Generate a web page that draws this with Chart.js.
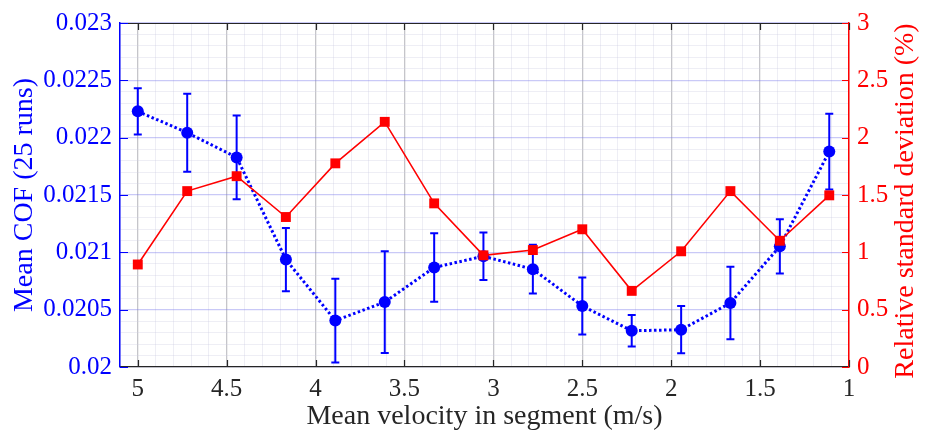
<!DOCTYPE html>
<html>
<head>
<meta charset="utf-8">
<script src="https://cdn.jsdelivr.net/npm/chart.js@4/dist/chart.umd.min.js"></script>
<style>
  html, body { margin: 0; padding: 0; background: #ffffff; }
</style>
</head>
<body>
<canvas id="cof-chart" width="928" height="434"></canvas>
<script>
// values
const velocity = [5, 4.722, 4.444, 4.167, 3.889, 3.611, 3.333, 3.056, 2.778, 2.5, 2.222, 1.944, 1.667, 1.389, 1.111];
const meanCof = [0.02223, 0.022043, 0.021828, 0.020937, 0.020405, 0.020566, 0.020868, 0.020966, 0.020853, 0.020532, 0.020316, 0.020325, 0.020558, 0.021052, 0.021879];
const cofStd = [0.000202, 0.00034, 0.000365, 0.000276, 0.000365, 0.000443, 0.000298, 0.000207, 0.000213, 0.000248, 0.000137, 0.000206, 0.000316, 0.000236, 0.00033];
const relStd = [0.894, 1.534, 1.664, 1.308, 1.776, 2.138, 1.427, 0.974, 1.02, 1.201, 0.664, 1.009, 1.534, 1.101, 1.497];

const rightTitle = "Relative standard deviation (%)";

const serif = "'Liberation Serif', 'DejaVu Serif', serif";
const BLUE = "#0000ff";
const RED = "#ff0000";

function isMultiple(v, step) {
  const q = v / step;
  return Math.abs(q - Math.round(q)) < 1e-6;
}

// error bars under the markers
const errorBars = {
  id: "errorBars",
  beforeDatasetsDraw(chart) {
    const ctx = chart.ctx;
    const x = chart.scales.x;
    const y = chart.scales.y;
    ctx.save();
    ctx.strokeStyle = BLUE;
    ctx.lineWidth = 2;
    velocity.forEach((v, i) => {
      const px = x.getPixelForValue(v);
      const top = y.getPixelForValue(meanCof[i] + cofStd[i]);
      const bot = y.getPixelForValue(meanCof[i] - cofStd[i]);
      ctx.beginPath();
      ctx.moveTo(px, top);
      ctx.lineTo(px, bot);
      ctx.moveTo(px - 4, top);
      ctx.lineTo(px + 4, top);
      ctx.moveTo(px - 4, bot);
      ctx.lineTo(px + 4, bot);
      ctx.stroke();
    });
    ctx.restore();
  },
};

// inward tick marks, top frame line and the right axis title (reads bottom to top)
const innerTicks = {
  id: "innerTicks",
  afterDraw(chart) {
    const ctx = chart.ctx;
    const area = chart.chartArea;
    const x = chart.scales.x;
    const y = chart.scales.y;
    const y2 = chart.scales.y2;
    ctx.save();
    ctx.lineWidth = 1.2;

    ctx.strokeStyle = "#262626";
    ctx.beginPath();
    ctx.moveTo(area.left, area.top + 0.5);
    ctx.lineTo(area.right, area.top + 0.5);
    x.ticks.forEach((t) => {
      if (!isMultiple(t.value, 0.5)) return;
      const px = Math.round(x.getPixelForValue(t.value)) + 0.5;
      ctx.moveTo(px, area.bottom);
      ctx.lineTo(px, area.bottom - 7);
      ctx.moveTo(px, area.top);
      ctx.lineTo(px, area.top + 7);
    });
    ctx.stroke();

    ctx.strokeStyle = BLUE;
    ctx.beginPath();
    y.ticks.forEach((t) => {
      if (!isMultiple(t.value, 0.0005)) return;
      const py = Math.round(y.getPixelForValue(t.value)) + 0.5;
      ctx.moveTo(area.left, py);
      ctx.lineTo(area.left + 8, py);
    });
    ctx.stroke();

    ctx.strokeStyle = RED;
    ctx.beginPath();
    y2.ticks.forEach((t) => {
      const py = Math.round(y2.getPixelForValue(t.value)) + 0.5;
      ctx.moveTo(area.right, py);
      ctx.lineTo(area.right - 7, py);
    });
    ctx.stroke();

    ctx.translate(906, (area.top + area.bottom) / 2 + 6);
    ctx.rotate(-Math.PI / 2);
    ctx.fillStyle = RED;
    ctx.font = "28px " + serif;
    ctx.textAlign = "center";
    ctx.textBaseline = "middle";
    ctx.fillText(rightTitle, 0, 0);
    ctx.restore();
  },
};

const ctx = document.getElementById("cof-chart").getContext("2d");
const chart = new Chart(ctx, {
  type: "line",
  data: {
    datasets: [
      {
        label: "Relative standard deviation",
        data: velocity.map((v, i) => ({ x: v, y: relStd[i] })),
        yAxisID: "y2",
        order: 0,
        borderColor: RED,
        backgroundColor: RED,
        borderWidth: 1.6,
        pointStyle: "rect",
        pointRadius: 7,
        pointBorderWidth: 0,
        tension: 0,
      },
      {
        label: "Mean COF",
        data: velocity.map((v, i) => ({ x: v, y: meanCof[i] })),
        yAxisID: "y",
        order: 1,
        borderColor: BLUE,
        backgroundColor: BLUE,
        borderWidth: 3,
        borderDash: [2.5, 2.5],
        pointStyle: "circle",
        pointRadius: 6,
        pointBorderWidth: 0,
        tension: 0,
      },
    ],
  },
  options: {
    responsive: false,
    animation: false,
    layout: { padding: { top: 19, right: 0, bottom: 0, left: 0 } },
    plugins: {
      legend: { display: false },
      tooltip: { enabled: false },
    },
    scales: {
      x: {
        type: "linear",
        position: "bottom",
        reverse: true,
        min: 1,
        max: 5.1,
        afterFit: (s) => { s.height = 67; },
        border: { color: "#262626", width: 1.2 },
        grid: {
          drawTicks: false,
          color: (c) => isMultiple(c.tick.value, 0.5) ? "rgba(140,140,150,0.5)" : "rgba(205,205,225,0.35)",
          lineWidth: (c) => isMultiple(c.tick.value, 0.5) ? 1.3 : 1,
        },
        ticks: {
          stepSize: 0.1,
          autoSkip: false,
          maxRotation: 0,
          padding: 7,
          color: "#262626",
          font: { family: serif, size: 25 },
          callback: (v) => isMultiple(v, 0.5) ? String(+v.toFixed(1)) : "",
        },
        title: {
          display: true,
          text: "Mean velocity in segment (m/s)",
          color: "#262626",
          font: { family: serif, size: 28 },
          padding: { top: 0, bottom: 1 },
        },
      },
      y: {
        type: "linear",
        position: "left",
        min: 0.02,
        max: 0.023,
        afterFit: (s) => { s.width = 120; },
        border: { color: BLUE, width: 1.5 },
        grid: {
          drawTicks: false,
          color: (c) => isMultiple(c.tick.value, 0.0005) ? "rgba(120,120,235,0.4)" : "rgba(205,205,225,0.35)",
          lineWidth: (c) => isMultiple(c.tick.value, 0.0005) ? 1.3 : 1,
        },
        ticks: {
          stepSize: 0.0001,
          autoSkip: false,
          padding: 8,
          color: BLUE,
          font: { family: serif, size: 25 },
          callback: (v) => isMultiple(v, 0.0005) ? String(+v.toFixed(4)) : "",
        },
        title: {
          display: true,
          text: "Mean COF (25 runs)",
          color: BLUE,
          font: { family: serif, size: 28 },
          padding: { top: 8, bottom: 0 },
        },
      },
      y2: {
        type: "linear",
        position: "right",
        min: 0,
        max: 3,
        afterFit: (s) => { s.width = 79; },
        border: { color: RED, width: 1.5 },
        grid: { drawOnChartArea: false, drawTicks: false },
        ticks: {
          stepSize: 0.5,
          padding: 8,
          color: RED,
          font: { family: serif, size: 25 },
          callback: (v) => String(+v.toFixed(1)),
        },
        title: { display: false },
      },
    },
  },
  plugins: [errorBars, innerTicks],
});
</script>
</body>
</html>
